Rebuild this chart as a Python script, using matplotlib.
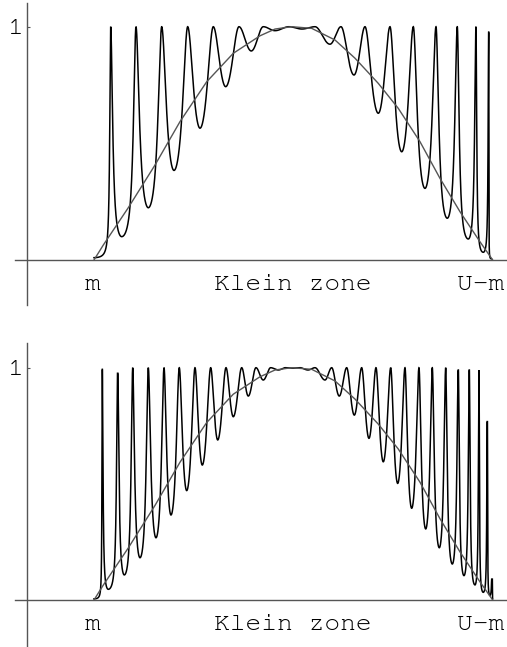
import matplotlib
matplotlib.use("Agg")
import matplotlib.pyplot as plt
import numpy as np

# energy runs from m (0) to U-m (1), transmission from 0 to 1
env_x = [0.0, 0.0233, 0.086, 0.153, 0.2157, 0.2827, 0.3494, 0.4164, 0.454, 0.4959,
         0.546, 0.6045, 0.6546, 0.7131, 0.7632, 0.8177, 0.8678, 0.918, 0.9682, 1.0]
env_t = [0.0, 0.064, 0.224, 0.407, 0.593, 0.764, 0.886, 0.961, 0.99, 1.0,
         0.993, 0.943, 0.865, 0.757, 0.65, 0.507, 0.35, 0.207, 0.078, 0.0]

# upper panel: resonance peaks and the minima between them
top_peaks = [0.0419, 0.1053, 0.1698, 0.235, 0.2992, 0.3637, 0.4246, 0.4891, 0.5543,
             0.6195, 0.6797, 0.7424, 0.8009, 0.8578, 0.9112, 0.9581, 0.99]
top_peak_h = [1, 1, 1, 1, 1, 1, 1, 1, 1, 1, 1, 1, 1, 1, 1, 1, 0.977]
top_min_x = [0.0, 0.0695, 0.1362, 0.2007, 0.2659, 0.3303, 0.3945, 0.454, 0.5217,
             0.5919, 0.6521, 0.7131, 0.7718, 0.8302, 0.8861, 0.9388, 0.9764, 0.997]
top_min_t = [0.01, 0.1, 0.224, 0.384, 0.565, 0.743, 0.896, 0.983, 0.99,
             0.925, 0.793, 0.629, 0.464, 0.307, 0.179, 0.09, 0.033, 0.005]

# lower panel: wider barrier, more resonances
bot_peaks = [0.0208, 0.0594, 0.0971, 0.1362, 0.1756, 0.2139, 0.2533, 0.2927, 0.3311,
             0.3705, 0.4063, 0.4432, 0.4803, 0.5167, 0.5543, 0.5962, 0.6338, 0.6714,
             0.7073, 0.7442, 0.78, 0.8151, 0.8485, 0.8821, 0.9137, 0.9413, 0.9656,
             0.9865, 0.999]
bot_peak_h = [0.993, 0.976, 1, 1, 1, 1, 1, 1, 1, 1, 1, 1, 1, 1, 1, 1, 1, 1, 1, 1,
              1, 1, 1, 1, 0.99, 0.99, 0.99, 0.768, 0.09]
bot_min_x = [0.0, 0.0359, 0.076, 0.1154, 0.1555, 0.1931, 0.2325, 0.2716, 0.3103,
             0.3494, 0.387, 0.4246, 0.4623, 0.4991, 0.5367, 0.5794, 0.6152, 0.6529,
             0.6897, 0.7256, 0.7617, 0.7968, 0.832, 0.8661, 0.8987, 0.928, 0.9556,
             0.9764, 0.9932, 1.0]
bot_min_t = [0.005, 0.046, 0.108, 0.182, 0.268, 0.366, 0.471, 0.581, 0.689,
             0.789, 0.878, 0.947, 0.99, 0.998, 0.99, 0.947, 0.878, 0.796,
             0.696, 0.595, 0.502, 0.395, 0.306, 0.225, 0.155, 0.105, 0.065,
             0.033, 0.02, 0.005]

labels = ["m", "Klein zone", "U-m"]
label_x = [-0.004, 0.498, 0.9706]


def resonance_curve(peaks, peak_h, min_x, min_t, n=40000):
    # Airy-type line shape: phase goes through k*pi at each peak and
    # (k+1/2)*pi at each minimum, the finesse is set by the minimum depth
    kx = np.empty(len(peaks) + len(min_x))
    kx[0::2] = min_x
    kx[1::2] = peaks
    kphi = (np.arange(len(kx)) - 1) * np.pi / 2
    x = np.linspace(min_x[0], min_x[-1], n)
    phi = np.interp(x, kx, kphi)
    F = 1.0 / np.array(min_t) - 1.0
    j = np.clip(np.floor(phi / np.pi).astype(int) + 1, 0, len(min_x) - 1)
    t = 1.0 / (1.0 + F[j] * np.sin(phi) ** 2)
    k = np.clip(np.rint(phi / np.pi).astype(int), 0, len(peaks) - 1)
    t = np.minimum(t, np.array(peak_h)[k])
    return x, t


fig = plt.figure(figsize=(5.07, 6.47), dpi=100)
mono = ["Nimbus Mono PS", "FreeMono", "Courier New", "Liberation Mono"]
axcol = "#555555"

panels = [
    ([15 / 507, 1 - 305 / 647, 492 / 507, 302 / 647], (-0.1929, 1.1016), -0.1286,
     top_peaks, top_peak_h, top_min_x, top_min_t),
    ([15 / 507, 0.0, 492 / 507, 304 / 647], (-0.2023, 1.1063), -0.1292,
     bot_peaks, bot_peak_h, bot_min_x, bot_min_t),
]

for rect, ylim, label_y, pk, ph, mx, mt in panels:
    ax = fig.add_axes(rect)
    x, t = resonance_curve(pk, ph, mx, mt)
    ax.plot(x, t, color="black", lw=1.1, solid_joinstyle="miter")
    ax.plot(env_x, env_t, color="#555555", lw=1.0)

    ax.set_xlim(-0.1981, 1.0359)
    ax.set_ylim(*ylim)
    ax.patch.set_visible(False)

    for s in ["top", "right"]:
        ax.spines[s].set_visible(False)
    ax.spines["left"].set_position(("data", -0.168))
    ax.spines["bottom"].set_position(("data", 0))
    for s in ["left", "bottom"]:
        ax.spines[s].set_color(axcol)
        ax.spines[s].set_linewidth(1.0)

    ax.set_xticks([])
    ax.set_yticks([1])
    ax.set_yticklabels(["1"], family=mono, fontsize=19)
    ax.tick_params(axis="y", direction="in", length=2.5, width=0.8,
                   color=axcol, pad=2.5)

    for lab, lx in zip(labels, label_x):
        ax.text(lx, label_y, lab, family=mono, fontsize=19,
                ha="center", va="baseline")

fig.savefig("out.png", dpi=100)
